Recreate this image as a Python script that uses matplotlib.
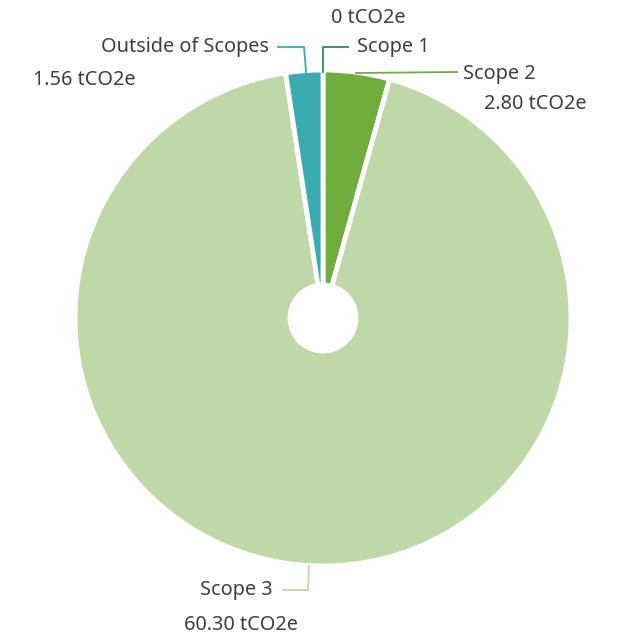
import matplotlib
matplotlib.use("Agg")
import matplotlib.pyplot as plt

categories = ["Scope 1", "Scope 2", "Scope 3", "Outside of Scopes"]
values = [0.0, 2.80, 60.30, 1.56]
value_labels = ["0 tCO2e", "2.80 tCO2e", "60.30 tCO2e", "1.56 tCO2e"]
colors = ["#2e8b57", "#70ad3c", "#bed9a7", "#3aabb0"]

plt.rcParams['font.family'] = ['Noto Sans', 'DejaVu Sans']

W, H = 620, 635
fig = plt.figure(figsize=(W / 100, H / 100), dpi=100)
ax = fig.add_axes([0, 0, 1, 1])

cx, cy = 323, H - 318
R = 248
hole = 33

wedges, _ = ax.pie(values, colors=colors,
                   startangle=90, counterclock=False, center=(cx, cy), radius=R,
                   wedgeprops=dict(width=R - hole, edgecolor='white', linewidth=3.5,
                                   joinstyle='round'))
# hide the zero-size wedge's outline
wedges[0].set_visible(False)
ax.set_xlim(0, W)
ax.set_ylim(0, H)
ax.set_aspect('equal')
ax.axis('off')

def Y(y):
    return H - y

txt = "#3f3f3f"
fs = 14.3
lw = 1.3

# Scope 1 leader
ax.plot([323, 323, 348], [Y(72), Y(47), Y(47)], color=colors[0], lw=lw)
ax.text(357, Y(47), categories[0], ha='left', va='center', fontsize=fs, color=txt)
ax.text(368, Y(18), value_labels[0], ha='center', va='center', fontsize=fs, color=txt)

# Outside leader
ax.plot([306, 304, 278], [Y(72), Y(47), Y(47)], color=colors[3], lw=lw)
ax.text(269, Y(47), categories[3], ha='right', va='center', fontsize=fs, color=txt)
ax.text(84, Y(80), value_labels[3], ha='center', va='center', fontsize=fs, color=txt)

# Scope 2 leader
ax.plot([356, 457], [Y(73), Y(72)], color=colors[1], lw=lw)
ax.text(463, Y(74), categories[1], ha='left', va='center', fontsize=fs, color=txt)
ax.text(535, Y(104), value_labels[1], ha='center', va='center', fontsize=fs, color=txt)

# Scope 3 leader
ax.plot([309, 308, 283], [Y(566), Y(590), Y(590)], color=colors[2], lw=lw)
ax.text(273, Y(590), categories[2], ha='right', va='center', fontsize=fs, color=txt)
ax.text(241, Y(625), value_labels[2], ha='center', va='center', fontsize=fs, color=txt)

fig.savefig("out.png", dpi=100, facecolor='white')
